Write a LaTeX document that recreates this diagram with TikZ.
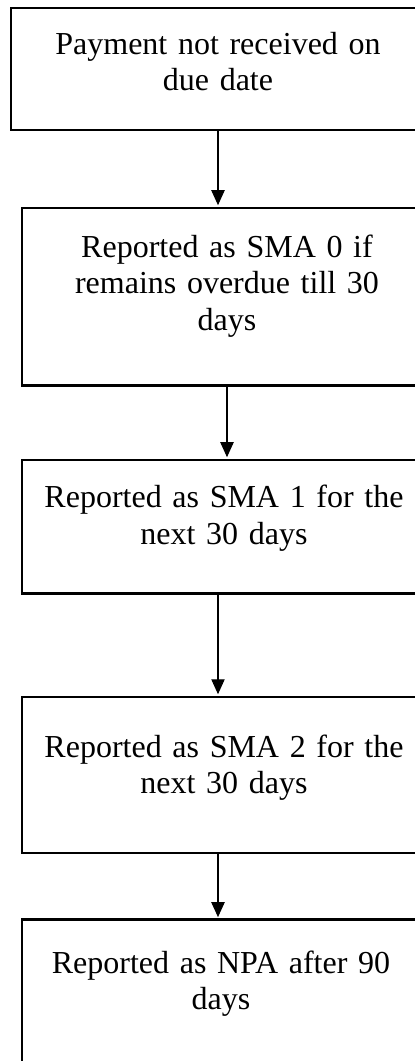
\documentclass[tikz,border=0pt]{standalone}
\usepackage{fontspec}
\setmainfont{Liberation Serif}[WordSpace={1,0,0}]
\usetikzlibrary{arrows.meta}

\tikzset{
	stage/.style={draw, line width=1.1pt, rectangle, inner sep=0pt, align=center, font=\fontsize{12pt}{13.8pt}\selectfont},
	flow/.style={line width=0.4pt, -{Triangle[width=5pt,length=5.6pt]}, shorten >=0.5pt}
}

\begin{document}
\begin{tikzpicture}[x=0.375pt, y=-0.375pt]
			%%%%% frame %%%%%
			\useasboundingbox (0, 0) rectangle (415, 1061);
			
			%%%%% stages %%%%%
			\node[stage, text width=155.25pt, text height=17.25pt, text depth=28.5pt] (b1) at (218, 69) {Payment not received on\\due date};
			\node[stage, text width=153.75pt, text height=18.4pt, text depth=48pt] (b2) at (227, 296.5) {Reported as SMA 0 if\\remains overdue till 30\\days};
			\node[stage, text width=151.5pt, text height=18pt, text depth=31.9pt] (b3) at (224, 526.5) {Reported as SMA 1 for the\\next 30 days};
			\node[stage, text width=151.5pt, text height=22.5pt, text depth=36pt] (b4) at (224, 775) {Reported as SMA 2 for the\\next 30 days};
			\node[stage, text width=149.25pt, text height=19.9pt, text depth=43.9pt] (b5) at (221, 1005) {Reported as NPA after 90\\days};
			
			%%%%% arrows %%%%%
			\draw[flow] (b1.south) -- (b2.north -| b1.south);
			\draw[flow] (b2.south) -- (b3.north -| b2.south);
			\draw[flow] (b3.south -| b1.south) -- (b4.north -| b1.south);
			\draw[flow] (b4.south -| b1.south) -- (b5.north -| b1.south);
		\end{tikzpicture}
\end{document}
